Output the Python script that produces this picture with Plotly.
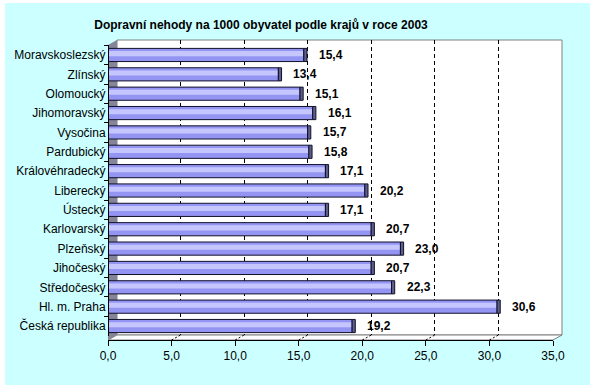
import plotly.graph_objects as go

# ---- data ----
regions = ["Moravskoslezský", "Zlínský", "Olomoucký", "Jihomoravský", "Vysočina",
           "Pardubický", "Královéhradecký", "Liberecký", "Ústecký", "Karlovarský",
           "Plzeňský", "Jihočeský", "Středočeský", "Hl. m. Praha", "Česká republika"]
accidents_per_1000 = [15.4, 13.4, 15.1, 16.1, 15.7, 15.8, 17.1, 20.2, 17.1, 20.7,
                      23.0, 20.7, 22.3, 30.6, 19.2]
x_ticks = [0, 5, 10, 15, 20, 25, 30, 35]
title_text = "Dopravní nehody na 1000 obyvatel podle krajů v roce 2003"

# ---- geometry (pixels) ----
W, H = 596, 392
L, R, T, B = 108, 34, 40, 52
PW, PH = W - L - R, H - T - B
BOTTOM = H - B  # 340
DX, DY = 9, 5   # 3D depth offset


def fx(px):
    return (px - L) / PW


def fy(py):
    return (BOTTOM - py) / PH


FONT = "Liberation Sans, Arial, sans-serif"
n = len(regions)

fig = go.Figure()

# empty trace for back-wall grid subplot
fig.add_trace(go.Scatter(x=[], y=[], xaxis="x", yaxis="y", showlegend=False,
                         hoverinfo="skip"))

BAR_W = 0.68
# bar body
fig.add_trace(go.Bar(x=accidents_per_1000, y=regions, orientation="h",
                     xaxis="x2", yaxis="y2", width=BAR_W,
                     marker=dict(color="#9494F2", line=dict(width=0)),
                     showlegend=False, hoverinfo="skip"))
# highlight band
fig.add_trace(go.Bar(x=accidents_per_1000, y=regions, orientation="h",
                     xaxis="x2", yaxis="y2", width=0.26, offset=-0.2,
                     marker=dict(color="#C6C6FF", line=dict(width=0)),
                     showlegend=False, hoverinfo="skip"))
# outline
fig.add_trace(go.Bar(x=accidents_per_1000, y=regions, orientation="h",
                     xaxis="x2", yaxis="y2", width=BAR_W,
                     marker=dict(color="rgba(0,0,0,0)",
                                 line=dict(color="#10102a", width=1)),
                     showlegend=False, hoverinfo="skip"))
# 3D side face
fig.add_trace(go.Bar(x=[0.25] * n, base=accidents_per_1000, y=regions, orientation="h",
                     xaxis="x2", yaxis="y2", width=BAR_W,
                     marker=dict(color="#5E5E8C", line=dict(color="#10102a", width=1)),
                     showlegend=False, hoverinfo="skip"))

# value labels
for reg, v in zip(regions, accidents_per_1000):
    fig.add_annotation(x=v, y=reg, xref="x2", yref="y2", xanchor="left",
                       yanchor="middle", xshift=13, showarrow=False,
                       text=f"{v:.1f}".replace(".", ","),
                       font=dict(family=FONT, size=12, color="black", weight="bold"))

shapes = [
    # outer light-cyan panel
    dict(type="rect", xref="paper", yref="paper", x0=fx(5), x1=fx(590),
         y0=fy(385), y1=fy(3), fillcolor="#CCFFFF", line=dict(width=0), layer="below"),
    # back wall
    dict(type="rect", xref="paper", yref="paper", x0=fx(L + DX), x1=fx(553 + DX),
         y0=fy(BOTTOM - DY), y1=fy(40), fillcolor="white",
         line=dict(color="#808080", width=1), layer="below"),
    # floor
    dict(type="path", xref="paper", yref="paper",
         path=(f"M {fx(L)} {fy(BOTTOM)} L {fx(553)} {fy(BOTTOM)} "
               f"L {fx(553 + DX)} {fy(BOTTOM - DY)} L {fx(L + DX)} {fy(BOTTOM - DY)} Z"),
         fillcolor="white", line=dict(color="#808080", width=1), layer="below"),
    # left wall
    dict(type="path", xref="paper", yref="paper",
         path=(f"M {fx(L)} {fy(45)} L {fx(L + DX)} {fy(40)} "
               f"L {fx(L + DX)} {fy(BOTTOM - DY)} L {fx(L)} {fy(BOTTOM)} Z"),
         fillcolor="#85859A", line=dict(width=0), layer="below"),
]
# floor grid segments
for t in x_ticks[1:-1]:
    shapes.append(dict(type="line", xref="x2", xsizemode="pixel", xanchor=t,
                       x0=0, x1=DX, yref="paper", ysizemode="pixel", yanchor=0,
                       y0=0, y1=DY, line=dict(color="black", width=1, dash="2px,2px"),
                       layer="below"))
fig.update_layout(shapes=shapes)

fig.update_layout(
    width=W, height=H,
    margin=dict(l=L, r=R, t=T, b=B, autoexpand=False),
    paper_bgcolor="white", plot_bgcolor="rgba(0,0,0,0)",
    separators=", ",
    barmode="overlay",
    font=dict(family=FONT, size=12, color="black"),
    title=dict(text=title_text, x=261 / W, xref="container", xanchor="center",
               y=1 - 25 / H, yref="container", yanchor="middle",
               font=dict(family=FONT, size=12, color="black", weight="bold")),
    # back-wall grid axes
    xaxis=dict(domain=[fx(L + DX), 1], range=[0, 35], tickvals=x_ticks,
               showgrid=True, griddash="4px,3px", gridcolor="black", gridwidth=1,
               showticklabels=False, ticks="", showline=False, zeroline=False,
               anchor="y"),
    yaxis=dict(domain=[fy(BOTTOM - DY), 1], range=[0, 1], showgrid=False,
               showticklabels=False, ticks="", showline=False, zeroline=False,
               anchor="x"),
    # front axes with bars
    xaxis2=dict(domain=[0, fx(553)], range=[0, 35], tickvals=x_ticks,
                tickformat=".1f", showgrid=False, zeroline=False,
                showline=True, linecolor="black", linewidth=1,
                ticks="outside", ticklen=5, tickcolor="black",
                anchor="free", position=0,
                tickfont=dict(family=FONT, size=12, color="black")),
    yaxis2=dict(domain=[fy(335.7), fy(45.3)], range=[n - 0.5, -0.5],
                type="category", categoryorder="array", categoryarray=regions,
                showgrid=False, zeroline=False, showline=True, linecolor="black",
                linewidth=1, ticks="outside", ticklen=4, tickcolor="black",
                tickson="boundaries", anchor="free", position=0,
                tickfont=dict(family=FONT, size=12, color="black")),
)

fig.write_html("out.html", config={"displayModeBar": False, "staticPlot": True},
               post_script="document.body.style.margin='0px';")
